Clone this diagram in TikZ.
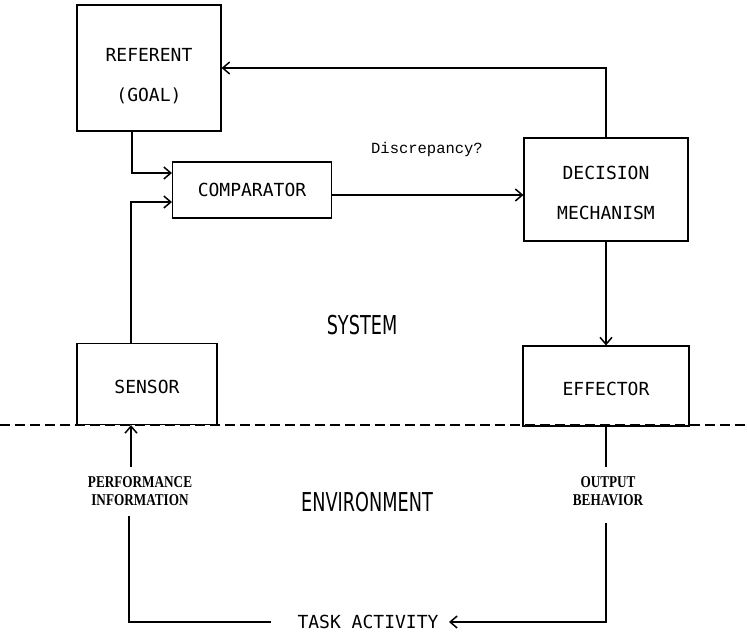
\documentclass[tikz,border=0pt]{standalone}
\usepackage{fontspec}
\usepackage{tikz}
\usetikzlibrary{arrows.meta}

\newfontfamily\boxmono{DejaVu Sans Mono}
\newfontfamily\typemono{Liberation Mono}
\newfontfamily\serifnarrow[FakeStretch=0.8]{Liberation Serif}
\newfontfamily\tallsans[FakeStretch=0.68]{DejaVu Sans}

\tikzset{
  block/.style={draw, line width=1.1pt, inner sep=0pt, align=center,
    font=\boxmono\fontsize{18}{40}\selectfont},
  flow/.style={line width=1.5pt, -{Straight Barb[length=7pt,width=12pt,line width=1.5pt]}},
  wire/.style={line width=1.5pt},
  note/.style={align=center, font=\serifnarrow\bfseries\fontsize{16.5}{18.5}\selectfont},
  region/.style={font=\tallsans\fontsize{26}{26}\selectfont},
}
% text set lower inside a block, its box kept
\newcommand{\lowered}[2]{\raisebox{-#1}[\height][\depth]{#2}}

\begin{document}
\begin{tikzpicture}[x=1pt, y=-1pt]
\useasboundingbox (0,0) rectangle (747,633);

% draw blocks of the system
\node[block, minimum width=144pt, minimum height=126pt] (referent) at (149,68) {\lowered{8pt}{REFERENT}\\\lowered{8pt}{(GOAL)}};
\node[block, minimum width=159pt, minimum height=56pt] (comparator) at (252,190) {COMPARATOR};
\node[block, minimum width=164pt, minimum height=103pt] (decision) at (606,189.5) {\lowered{3pt}{DECISION}\\\lowered{3pt}{MECHANISM}};
\node[block, minimum width=140pt, minimum height=81pt] (sensor) at (147,384) {\lowered{3pt}{SENSOR}};
\node[block, minimum width=166pt, minimum height=80pt] (effector) at (606,386) {\lowered{3pt}{EFFECTOR}};

% labels
\node[font=\typemono\fontsize{15.5}{18}\selectfont] (discrepancy) at (427,149) {Discrepancy?};
\node[region] (system) at (362,325) {SYSTEM};
\node[region] (environment) at (367,502) {ENVIRONMENT};
\node[note] (perfinfo) at (140,491) {PERFORMANCE\\INFORMATION};
\node[note] (outbehav) at (608,491) {OUTPUT\\BEHAVIOR};
\node[block, draw=none, inner xsep=10pt] (task) at (368,622) {TASK ACTIVITY};

% loose ends of the outer loop
\coordinate (perftop) at (131,467);
\coordinate (perfbot) at (129,516);
\coordinate (outtop) at (606,467);
\coordinate (outbot) at (606,523);

% system / environment border
\draw[line width=1.3pt, dash pattern=on 10pt off 5pt] (0,425) -- (747,425);

% inner loop
\draw[flow] ([xshift=-17pt]referent.south) |- ([yshift=17pt]comparator.west);
\draw[flow] ([xshift=-16pt]sensor.north) |- ([yshift=-12pt]comparator.west);
\draw[flow, line width=2pt] ([yshift=-5pt]comparator.east) -- ([yshift=-5pt]comparator.east -| decision.west);
\draw[flow, line width=1.2pt] (decision.north) |- (referent.east);
\draw[flow] (decision.south) -- (effector.north);

% outer loop through the environment
\draw[wire] (effector.south) -- (outtop);
\draw[flow] (outbot) |- (task.east);
\draw[wire] (perfbot) |- ([xshift=-16pt]task.west);
\draw[flow] (perftop) -- (perftop |- sensor.south);

\end{tikzpicture}
\end{document}
